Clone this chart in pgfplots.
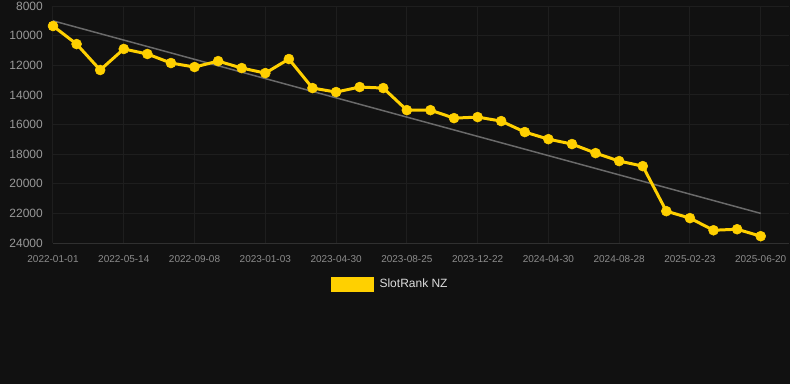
\documentclass[border=0pt]{standalone}
\usepackage{pgfplots}
\pgfplotsset{compat=1.18}
\usepackage{fontspec}
\setmainfont{Liberation Sans}
\definecolor{bg}{HTML}{111111}
\definecolor{gridc}{HTML}{1E1E1E}
\definecolor{axisc}{HTML}{303030}
\definecolor{gold}{HTML}{FFD000}
\definecolor{trend}{HTML}{6A6A6A}
\definecolor{ylab}{HTML}{999999}
\definecolor{xlab}{HTML}{8C8C8C}
\definecolor{legtext}{HTML}{DDDDDD}
\begin{document}
\begin{tikzpicture}
\fill[bg] (0pt,0pt) rectangle (790pt,384pt);
\begin{axis}[
  at={(53pt,141pt)}, anchor=south west,
  scale only axis, width=736pt, height=237pt,
  xmin=0, xmax=31.2, ymin=8000, ymax=24000,
  y dir=reverse,
  clip=false,
  scaled y ticks=false,
  axis line style={draw=none},
  major tick length=0pt,
  xtick={0,3,...,30},
  xticklabels={2022-01-01,2022-05-14,2022-09-08,2023-01-03,2023-04-30,2023-08-25,2023-12-22,2024-04-30,2024-08-28,2025-02-23,2025-06-20},
  ytick={8000,10000,...,24000},
  /pgf/number format/assume math mode=true,
  /pgf/number format/1000 sep={},
  yticklabel style={font=\fontsize{12}{14}\selectfont, text=ylab, anchor=east, inner sep=0pt, xshift=-10pt},
  xticklabel style={font=\fontsize{10}{12}\selectfont, text=xlab, anchor=north, inner sep=0pt, yshift=-12pt},
  grid=major,
  major grid style={draw=gridc, line width=1pt},
  legend style={at={(0.458,-0.173)}, anchor=center, draw=none, fill=none, text=legtext, font=\fontsize{12}{14}\selectfont},
  legend cell align=left,
]
\draw[axisc, line width=1pt] (axis cs:0,24000) -- (axis cs:31.2,24000);
\addplot[trend, line width=1.5pt, forget plot] coordinates {(0,9000) (30,22000)};
\addplot[gold, line width=3pt, mark=*, mark size=5pt, mark options={fill=gold, draw=gold, line width=0.5pt},
  legend image code/.code={\fill[gold] (0pt,-6pt) rectangle (40pt,6pt);}] coordinates {
(0,9350) (1,10570) (2,12320) (3,10900) (4,11240) (5,11850) (6,12120) (7,11720) (8,12190) (9,12530)
(10,11580) (11,13540) (12,13810) (13,13470) (14,13540) (15,15030) (16,15030) (17,15570) (18,15500) (19,15770)
(20,16510) (21,16990) (22,17320) (23,17930) (24,18470) (25,18810) (26,21850) (27,22320) (28,23140) (29,23070)
(30,23540)};
\addlegendentry{\hspace{4pt}SlotRank NZ}
\end{axis}
\pgfresetboundingbox
\path[use as bounding box] (0pt,0pt) rectangle (790pt,384pt);
\end{tikzpicture}
\end{document}
